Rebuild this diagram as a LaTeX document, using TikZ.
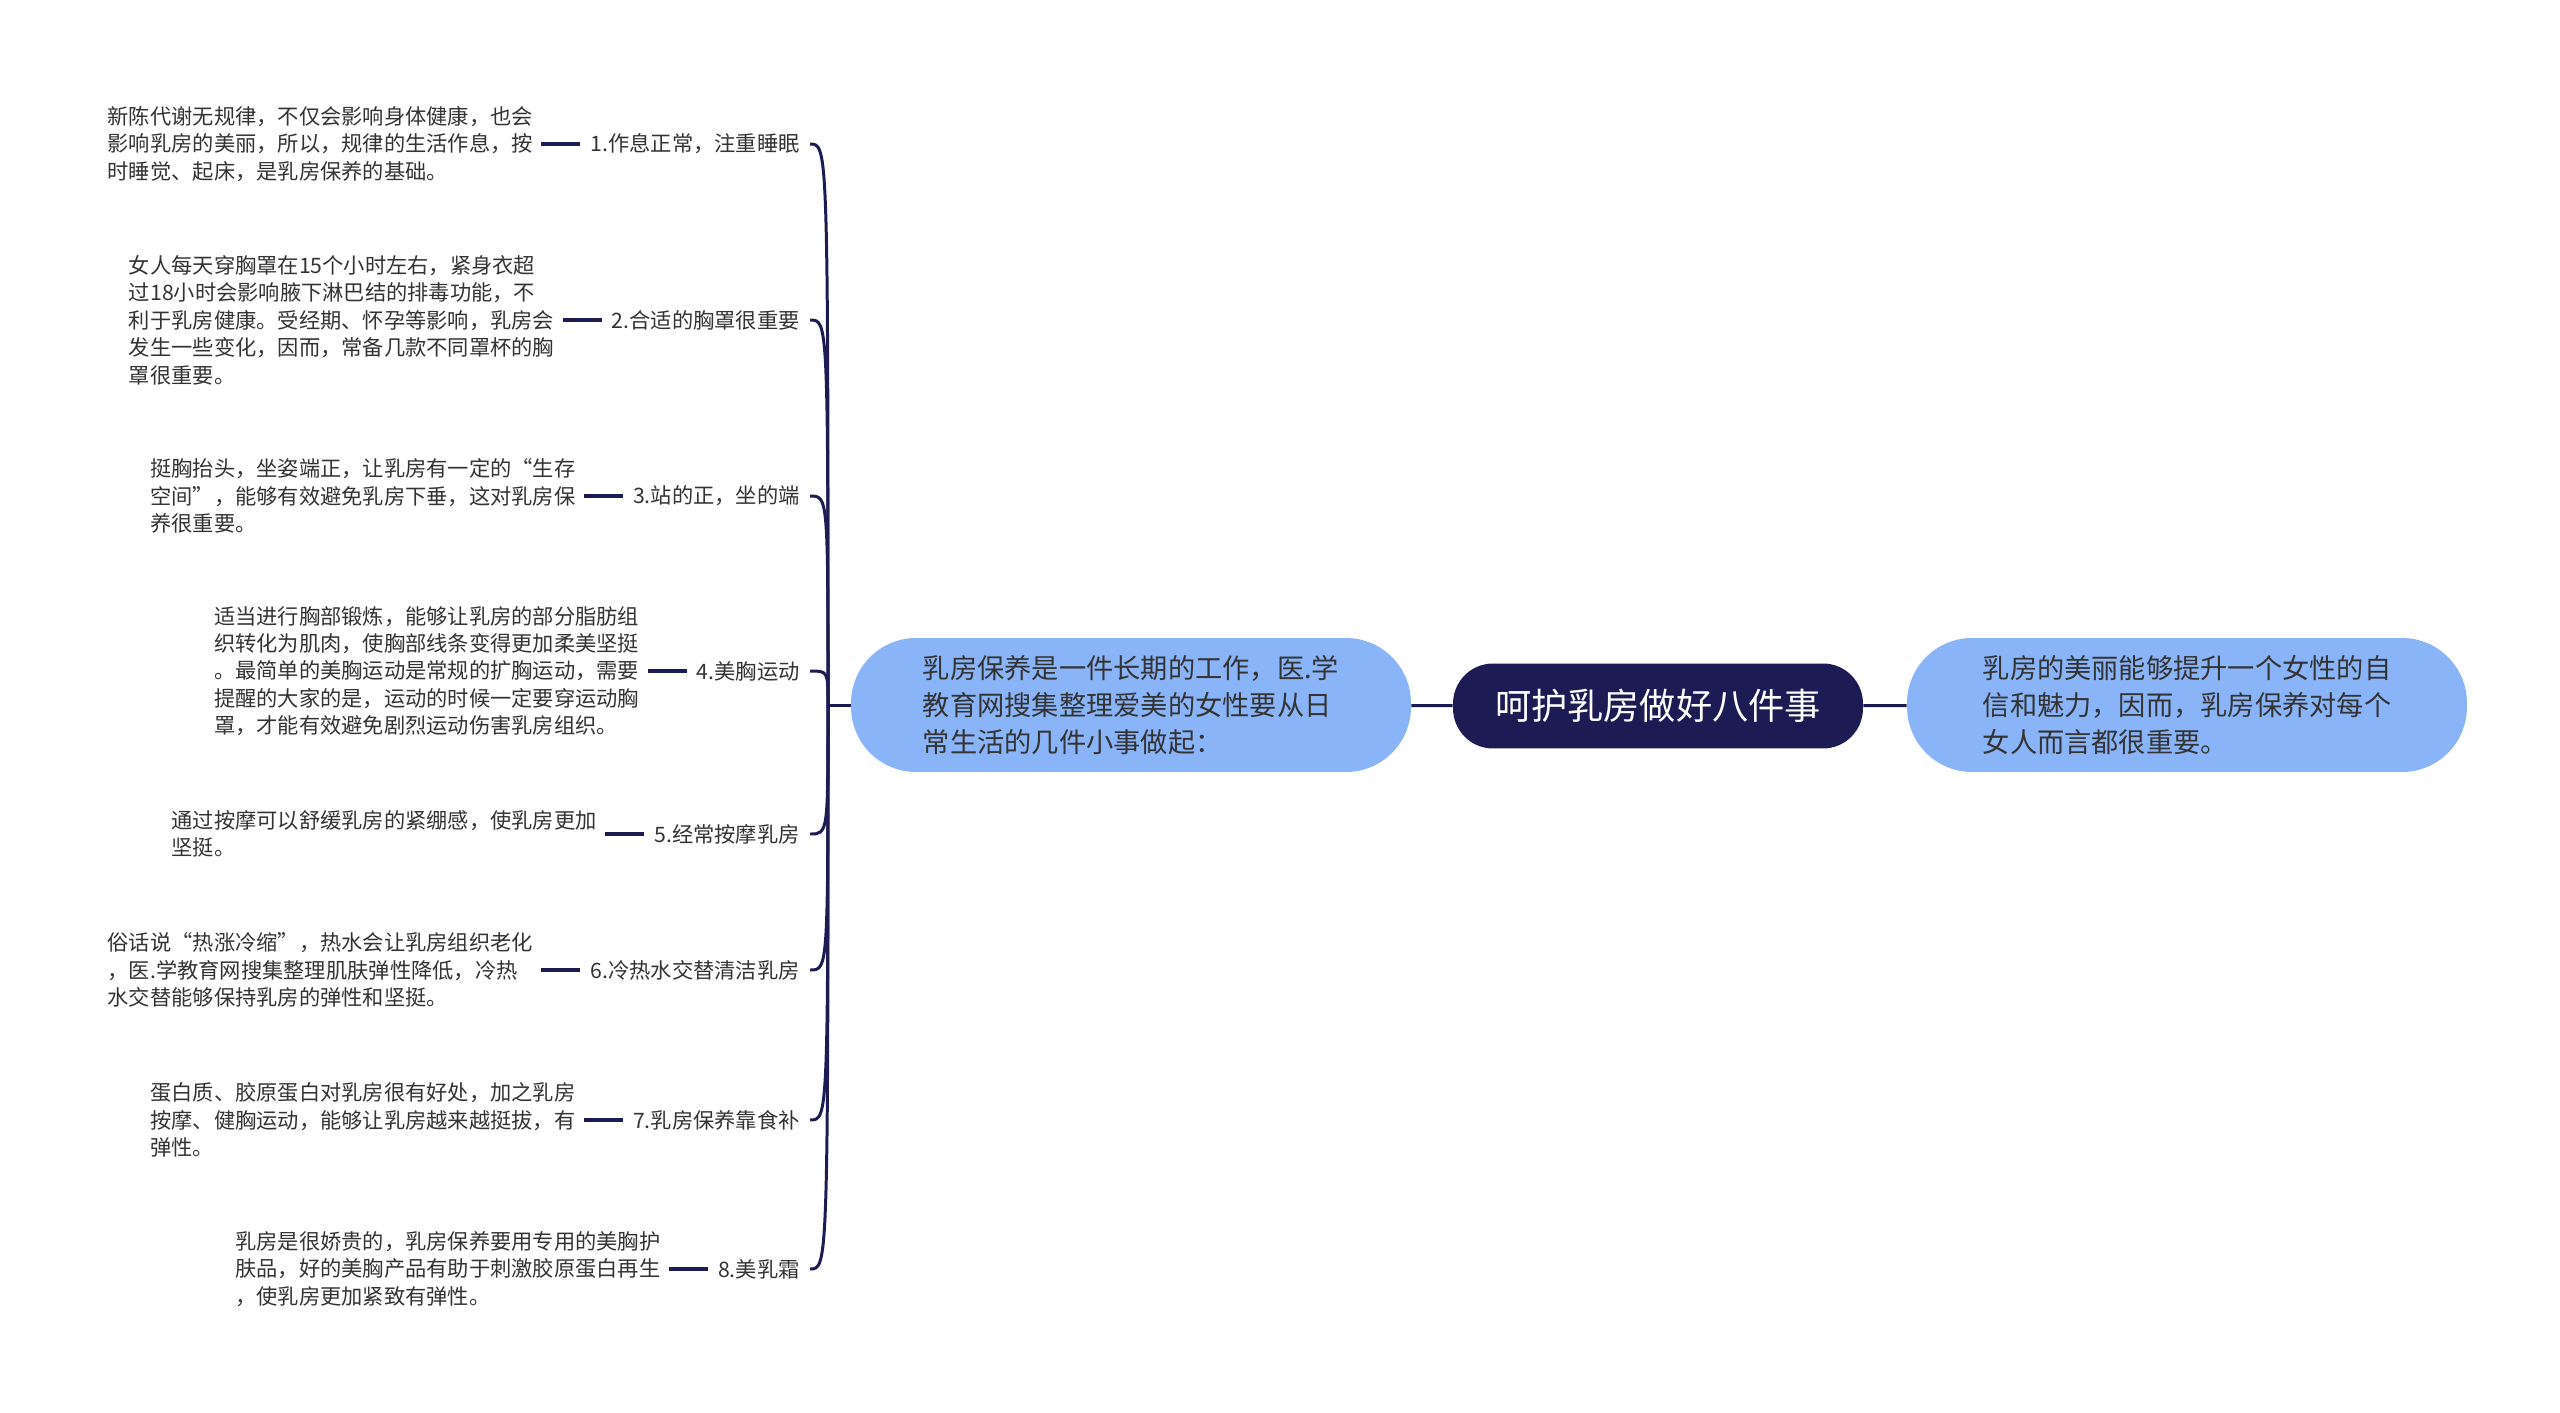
\documentclass[tikz,border=0pt]{standalone}
\usepackage{fontspec}
\setmainfont{Noto Sans CJK SC}
\usetikzlibrary{positioning}
\definecolor{navy}{HTML}{1C1B53}
\definecolor{paleblue}{HTML}{8AB4F8}
\definecolor{ink}{HTML}{333333}
\tikzset{
  root/.style={fill=navy, text=white, rounded corners=0.8cm, minimum width=8.2cm, minimum height=1.7cm, font=\fontsize{20.6pt}{24pt}\selectfont},
  topic/.style={fill=paleblue, text=ink, rounded corners=1.3cm, minimum width=11.2cm, minimum height=2.68cm, align=left, font=\fontsize{15.5pt}{20.9pt}\selectfont},
  tip/.style={anchor=east, text=ink, inner xsep=0.2cm, font=\fontsize{12.1pt}{15.6pt}\selectfont},
  detail/.style={text=ink, inner xsep=0.16cm, align=left, font=\fontsize{12.1pt}{15.6pt}\selectfont},
  link/.style={draw=navy, line width=1.7pt},
  stub/.style={draw=navy, line width=2.2pt}
}
\begin{document}
\begin{tikzpicture}[x=0.02cm, y=-0.02cm]
\useasboundingbox (0,0) rectangle (2560,1413);

\node[root] (root) at (1658, 706) {呵护乳房做好八件事};
\node[topic] (intro) at (1131, 705) {乳房保养是一件长期的工作，医.学\\教育网搜集整理爱美的女性要从日\\常生活的几件小事做起：};
\node[topic] (why) at (2187, 705) {乳房的美丽能够提升一个女性的自\\信和魅力，因而，乳房保养对每个\\女人而言都很重要。};
\coordinate (hub) at (828, 705);

\node[tip] (l1) at (810, 144) {1.作息正常，注重睡眠};
\node[tip] (l2) at (810, 320) {2.合适的胸罩很重要};
\node[tip] (l3) at (810, 496) {3.站的正，坐的端};
\node[tip] (l4) at (810, 671) {4.美胸运动};
\node[tip] (l5) at (810, 834) {5.经常按摩乳房};
\node[tip] (l6) at (810, 970) {6.冷热水交替清洁乳房};
\node[tip] (l7) at (810, 1120) {7.乳房保养靠食补};
\node[tip] (l8) at (810, 1269) {8.美乳霜};

\node[detail, left=0.78cm of l1] (t1) {新陈代谢无规律，不仅会影响身体健康，也会\\影响乳房的美丽，所以，规律的生活作息，按\\时睡觉、起床，是乳房保养的基础。};
\node[detail, left=0.78cm of l2] (t2) {女人每天穿胸罩在15个小时左右，紧身衣超\\过18小时会影响腋下淋巴结的排毒功能，不\\利于乳房健康。受经期、怀孕等影响，乳房会\\发生一些变化，因而，常备几款不同罩杯的胸\\罩很重要。};
\node[detail, left=0.78cm of l3] (t3) {挺胸抬头，坐姿端正，让乳房有一定的“生存\\空间”，能够有效避免乳房下垂，这对乳房保\\养很重要。};
\node[detail, left=0.78cm of l4] (t4) {适当进行胸部锻炼，能够让乳房的部分脂肪组\\织转化为肌肉，使胸部线条变得更加柔美坚挺\\。最简单的美胸运动是常规的扩胸运动，需要\\提醒的大家的是，运动的时候一定要穿运动胸\\罩，才能有效避免剧烈运动伤害乳房组织。};
\node[detail, left=0.78cm of l5] (t5) {通过按摩可以舒缓乳房的紧绷感，使乳房更加\\坚挺。};
\node[detail, left=0.78cm of l6] (t6) {俗话说“热涨冷缩”，热水会让乳房组织老化\\，医.学教育网搜集整理肌肤弹性降低，冷热\\水交替能够保持乳房的弹性和坚挺。};
\node[detail, left=0.78cm of l7] (t7) {蛋白质、胶原蛋白对乳房很有好处，加之乳房\\按摩、健胸运动，能够让乳房越来越挺拔，有\\弹性。};
\node[detail, left=0.78cm of l8] (t8) {乳房是很娇贵的，乳房保养要用专用的美胸护\\肤品，好的美胸产品有助于刺激胶原蛋白再生\\，使乳房更加紧致有弹性。};

\draw[link] (root) -- (intro);
\draw[link] (root) -- (why);
\draw[link] (hub) -- (intro);
\foreach \i in {1,...,8} {
  \draw[link] (l\i.east) .. controls (hub |- l\i.east) .. (hub);
  \draw[stub] (t\i) -- (l\i);
}
\end{tikzpicture}
\end{document}
